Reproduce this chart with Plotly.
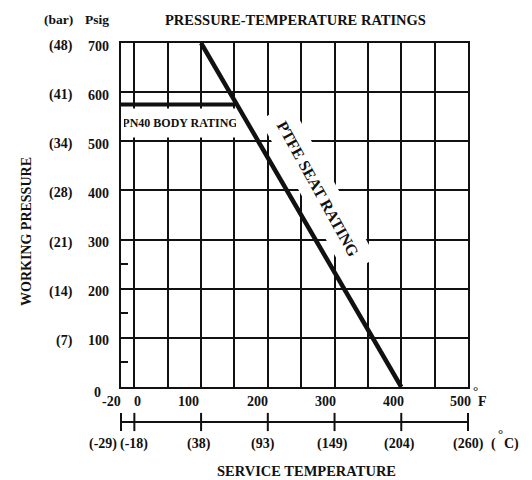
import plotly.graph_objects as go

# ---------------- data ----------------
temp_f_ticks = [-20, 0, 100, 200, 300, 400, 500]
temp_f_labels = ["-20", "0", "100", "200", "300", "400", "500"]
temp_c_labels = ["(-29)", "(-18)", "(38)", "(93)", "(149)", "(204)", "(260)"]
psig_ticks = [0, 100, 200, 300, 400, 500, 600, 700]
psig_labels = ["0", "100", "200", "300", "400", "500", "600", "700"]
bar_labels = ["", "(7)", "(14)", "(21)", "(28)", "(34)", "(41)", "(48)"]
psig_minor = [50, 150, 250]

ptfe_temp = [100, 400]
ptfe_psig = [700, 0]
pn40_temp = [-20, 150]
pn40_psig = [575, 575]

# ---------------- layout helpers ----------------
# the page body has an 8px margin; the figure is sized to fill the rest
OFF = 8
W, H = 532 - OFF, 480 - OFF
L, R, T, B = 121 - OFF, 64, 43 - OFF, 40
PW, PH = W - L - R, H - T - B


def px(X):
    return (X - OFF - L) / PW


def py(Y):
    return (H - B - (Y - OFF)) / PH


FONT = "Liberation Serif"
BLK = "#111111"

fig = go.Figure()

fig.add_trace(go.Scatter(x=pn40_temp, y=pn40_psig, mode="lines",
                         line=dict(color=BLK, width=4), showlegend=False,
                         hoverinfo="skip"))
fig.add_trace(go.Scatter(x=ptfe_temp, y=ptfe_psig, mode="lines",
                         line=dict(color=BLK, width=4.5), showlegend=False,
                         hoverinfo="skip"))

# Celsius scale (second subplot below main plot)
fig.add_trace(go.Scatter(x=[temp_f_ticks[0], temp_f_ticks[-1]], y=[0, 0],
                         mode="lines", line=dict(color=BLK, width=2),
                         xaxis="x2", yaxis="y2", showlegend=False,
                         hoverinfo="skip"))
fig.add_trace(go.Scatter(x=temp_f_ticks, y=[0] * len(temp_f_ticks),
                         mode="markers",
                         marker=dict(symbol="line-ns", size=13,
                                     line=dict(color=BLK, width=2)),
                         xaxis="x2", yaxis="y2", showlegend=False,
                         cliponaxis=False, hoverinfo="skip"))

main_bottom = py(387)
c_center = py(422)

fig.update_layout(
    width=W, height=H,
    margin=dict(l=L, r=R, t=T, b=B, pad=0),
    paper_bgcolor="white", plot_bgcolor="white",
    showlegend=False,
    font=dict(family=FONT, size=14, color=BLK),
    xaxis=dict(range=[-20, 500], domain=[0, 1], anchor="y",
               tickvals=list(range(0, 501, 50)), showticklabels=False,
               ticks="", showgrid=True, gridcolor=BLK, gridwidth=2,
               showline=True, mirror=True, linecolor=BLK, linewidth=2,
               zeroline=False, fixedrange=True),
    yaxis=dict(range=[0, 700], domain=[main_bottom, 1], anchor="x",
               tickvals=psig_ticks, showticklabels=False, ticks="",
               showgrid=True, gridcolor=BLK, gridwidth=2,
               showline=True, mirror=True, linecolor=BLK, linewidth=2,
               zeroline=False, fixedrange=True,
               minor=dict(tickmode="array", tickvals=psig_minor,
                          ticks="inside", ticklen=7, tickwidth=2,
                          tickcolor=BLK, showgrid=False)),
    xaxis2=dict(range=[-20, 500], domain=[0, 1], anchor="y2",
                visible=False, fixedrange=True),
    yaxis2=dict(range=[-1, 1], domain=[0, 2 * c_center], anchor="x2",
                visible=False, fixedrange=True),
)

ann = []


def txt(text, x, y, xref="paper", yref="paper", size=14, bold=True, **kw):
    d = dict(text=text, x=x, y=y, xref=xref, yref=yref, showarrow=False,
             font=dict(family=FONT, size=size, color=BLK,
                       weight=700 if bold else 400))
    d.setdefault("xanchor", "center")
    d.setdefault("yanchor", "middle")
    d.update(kw)
    ann.append(d)


# Title and headers
txt("PRESSURE-TEMPERATURE RATINGS", px(295), py(20), size=14.5)
txt("(bar)", px(75), py(20), size=13.5, xanchor="right")
txt("Psig", px(111), py(20), size=13.5, xanchor="right")

# Y labels
for v, lab, bl in zip(psig_ticks, psig_labels, bar_labels):
    if v == 0:
        txt(lab, 0, v, yref="y", xanchor="right", xshift=-18, yshift=-5)
    else:
        txt(lab, 0, v, yref="y", xanchor="right", xshift=-10, yshift=-3)
    if bl:
        txt(bl, 0, v, yref="y", xanchor="right", xshift=-46, yshift=-3)

# Fahrenheit labels
f_shift = [-9.5, 3.6, -12.5, -10.8, -9.5, -7.8, -7.5]
for v, lab, s in zip(temp_f_ticks, temp_f_labels, f_shift):
    txt(lab, v, py(401), xref="x", xshift=s)
txt("°", px(475.5), py(390), size=13)
txt("F", px(482), py(401), size=14)

# Celsius labels
c_shift = [-18, 0, -2.5, -4.5, -2, -2, 0]
for v, lab, s in zip(temp_f_ticks, temp_c_labels, c_shift):
    txt(lab, v, py(444), xref="x", xshift=s)
txt("(", px(493), py(444), size=14)
txt("°", px(500), py(433), size=13)
txt("C)", px(511), py(444), size=14)

# Axis titles
txt("WORKING PRESSURE", px(26), py(232), size=14, textangle=-90)
txt("SERVICE TEMPERATURE", px(306), py(471), size=14.5)

# In-plot labels with white boxes
txt("PN40 BODY RATING", px(180), py(123), size=12, bgcolor="white",
    width=112, height=28, borderpad=0)
txt("PTFE SEAT RATING", px(318), py(189), size=16, bgcolor="white",
    width=176, height=34, borderpad=0, textangle=61)

fig.update_layout(annotations=ann)

fig.write_html("out.html")
